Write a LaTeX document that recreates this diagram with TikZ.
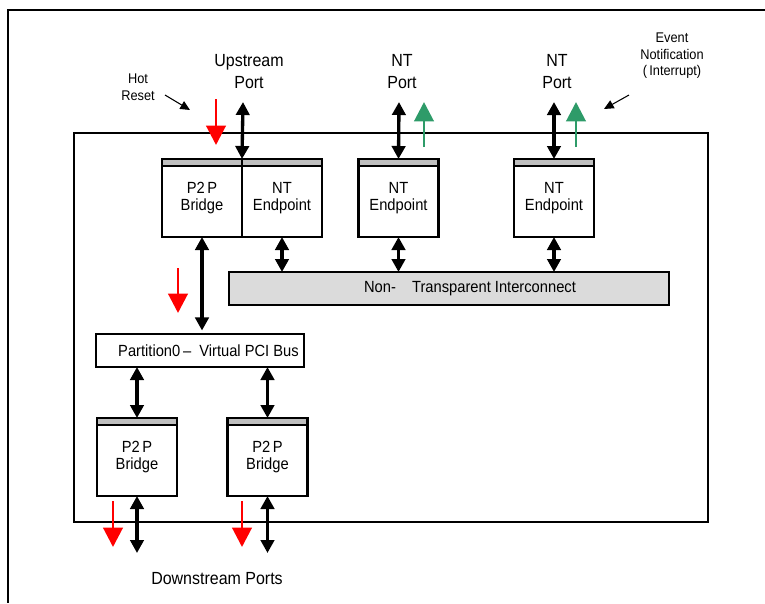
\documentclass[tikz,border=0pt]{standalone}
\usepackage{fontspec}
\setmainfont[FakeStretch=0.91]{Liberation Sans}
\usetikzlibrary{arrows.meta,calc}

\definecolor{evtgreen}{RGB}{46,155,105}

\tikzset{
  blk/.style={draw, line width=1.3pt, fill=white, minimum width=1.6cm, minimum height=1.56cm,
    inner sep=0pt, outer sep=0pt, align=center, font=\fontsize{9.2}{10}\selectfont},
  hdr/.style={draw, line width=1.3pt, fill=black!25},
  busbox/.style={draw, line width=1.3pt, minimum height=0.66cm, inner sep=0pt, outer sep=0pt,
    font=\fontsize{9.2}{10}\selectfont},
  dbl/.style={{Triangle[length=7.4pt,width=7.6pt]}-{Triangle[length=7.4pt,width=7.6pt]}, line width=1.9pt},
  rst/.style={-{Triangle[length=11pt,width=11pt]}, line width=1.7pt, color=red},
  evt/.style={-{Triangle[length=11pt,width=11pt]}, line width=1.7pt, color=evtgreen},
  note/.style={-{Triangle[length=5.5pt,width=5pt]}, line width=.6pt},
  port/.style={align=center, font=\fontsize{10}{13}\selectfont},
  small/.style={align=center, font=\fontsize{8}{9.4}\selectfont}
}

\begin{document}
\begin{tikzpicture}[x=0.02cm, y=-0.02cm, line width=1.2pt]
\useasboundingbox (0,0) rectangle (765,603);

% page frame and switch outline
\draw[line width=1.3pt] (765,10) -- (8,10) -- (8,603);
\draw (74,133) rectangle (708,522);

% blocks
\node[blk] (ub)  at (202,198)   {P2\,P\\Bridge};
\node[blk] (ue)  at (282,198)   {NT\\Endpoint};
\node[blk] (ne1) at (398.5,198) {NT\\Endpoint};
\node[blk] (ne2) at (554,198)   {NT\\Endpoint};
\node[blk] (db1) at (137,457)   {P2\,P\\Bridge};
\node[blk] (db2) at (267.5,457) {P2\,P\\Bridge};
\foreach \b in {ub,ue,ne1,ne2,db1,db2}
  \draw[hdr] (\b.north west) rectangle ($(\b.north east)+(0,7)$);

\node[busbox, fill=black!14, minimum width=8.8cm] (ic) at (449,288.5)
  {\hspace*{0.84cm}Non-\quad Transparent Interconnect};
\node[busbox, fill=white, minimum width=4.16cm] (pb) at (200,350.5)
  {\hspace*{0.34cm}Partition0\,--\enspace Virtual PCI Bus};

% texts
\node[port] (upl)  at (249,71.5) {Upstream\\Port};
\node[port] (nt1l) at (402,71.5) {NT\\Port};
\node[port] (nt2l) at (557,71.5) {NT\\Port};
\node[port] (dnl)  at (217,579)  {Downstream Ports};
\node[small] (hrl) at (138,87)   {Hot\\Reset};
\node[small] (evl) at (672,56)   {Event\\Notification\\(\,Interrupt)};

% free ends
\coordinate (upT)  at (243,102);
\coordinate (nt1T) at (399,102);
\coordinate (nt2T) at (554,102);
\coordinate (db1B) at (137,553);
\coordinate (db2B) at (267.5,553);
\coordinate (hr1) at (165,95);  \coordinate (hr2) at (190,110);
\coordinate (ev1) at (629,95);  \coordinate (ev2) at (604,109);

% links
\draw[dbl] (upT) -- (ub.north east);
\draw[dbl] (nt1T) -- (ne1.north);
\draw[dbl] (nt2T) -- (ne2.north);
\draw[dbl, shorten >=2pt] (ub.south) -- (ub.south |- pb.north);
\foreach \b in {ue,ne1,ne2}
  \draw[dbl] (\b.south) -- (\b.south |- ic.north);
\foreach \b in {db1,db2}
  \draw[dbl] (\b.north |- pb.south) -- (\b.north);
\draw[dbl] (db1.south) -- (db1B);
\draw[dbl] (db2.south) -- (db2B);

% reset and event arrows
\coordinate (r1a) at (216,99);  \coordinate (r1b) at (216,145);
\coordinate (r2a) at (178,268); \coordinate (r2b) at (178,313);
\coordinate (r3a) at (113,501); \coordinate (r3b) at (113,547);
\coordinate (r4a) at (242,501); \coordinate (r4b) at (242,547);
\foreach \i in {1,...,4}
  \draw[rst] (r\i a) -- (r\i b);
\coordinate (g1a) at (424,147); \coordinate (g1b) at (424,102);
\coordinate (g2a) at (576,147); \coordinate (g2b) at (576,102);
\draw[evt] (g1a) -- (g1b);
\draw[evt] (g2a) -- (g2b);
\draw[note] (hr1) -- (hr2);
\draw[note] (ev1) -- (ev2);
\end{tikzpicture}
\end{document}
